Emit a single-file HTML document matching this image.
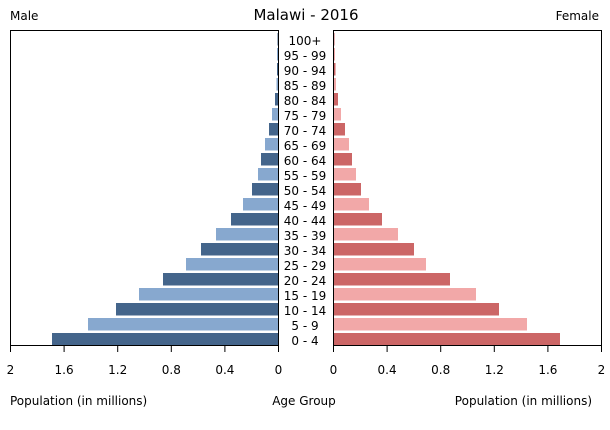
<!DOCTYPE html>
<html><head><style>body{margin:0;background:#fff}svg text{font-family:"DejaVu Sans","Liberation Sans",sans-serif;fill:#000}</style></head>
<body>
<svg width="610" height="425" xmlns="http://www.w3.org/2000/svg">
<text x="306" y="20" font-size="15" text-anchor="middle">Malawi - 2016</text>
<text x="10" y="20" font-size="12">Male</text>
<text x="599" y="20" font-size="12" text-anchor="end">Female</text>
<g id="bars"></g>
<rect x="10.5" y="30.5" width="268" height="315" fill="none" stroke="#000"/>
<rect x="333.5" y="30.5" width="268" height="315" fill="none" stroke="#000"/>
<g id="ax" stroke="#000"></g>
<g id="lab" font-size="12" text-anchor="middle"></g>
<text x="10" y="405" font-size="12">Population (in millions)</text>
<text x="304" y="405" font-size="12" text-anchor="middle">Age Group</text>
<text x="592" y="405" font-size="12" text-anchor="end">Population (in millions)</text>
<script>
var L=[226,190,162,139,115,92,77,62,47,35,26,20,17,13,9,6,3,1.5,1,1,0.5];
var R=[226,193,165,142,116,92,80,64,48,35,27,22,18,15,11,7,4,2,1.5,1,0.5];
var ages=["0 - 4","5 - 9","10 - 14","15 - 19","20 - 24","25 - 29","30 - 34","35 - 39","40 - 44","45 - 49","50 - 54","55 - 59","60 - 64","65 - 69","70 - 74","75 - 79","80 - 84","85 - 89","90 - 94","95 - 99","100+"];
var ns="http://www.w3.org/2000/svg",b=document.getElementById("bars"),lab=document.getElementById("lab"),ax=document.getElementById("ax");
function el(p,t,a,txt){var e=document.createElementNS(ns,t);for(var k in a)e.setAttribute(k,a[k]);if(txt)e.textContent=txt;p.appendChild(e);}
for(var i=0;i<21;i++){var y=333-15*i,d=i%2==0;
el(b,"rect",{x:278-L[i],y:y,width:L[i],height:12.5,fill:d?"#44658b":"#87a8cf"});
el(b,"rect",{x:334,y:y,width:R[i],height:12.5,fill:d?"#cc6666":"#f2a8a8"});
el(lab,"text",{x:305,y:y+12},ages[i]);}
var t=["2","1.6","1.2","0.8","0.4","0"];
for(var j=0;j<6;j++){var xl=10.5+53.6*j,xr=601.5-53.6*j;
el(ax,"line",{x1:xl,y1:345,x2:xl,y2:352});el(ax,"line",{x1:xr,y1:345,x2:xr,y2:352});
el(lab,"text",{x:xl,y:374,stroke:"none"},t[j]);el(lab,"text",{x:xr,y:374,stroke:"none"},t[j]);}
</script>
</svg>
</body></html>
